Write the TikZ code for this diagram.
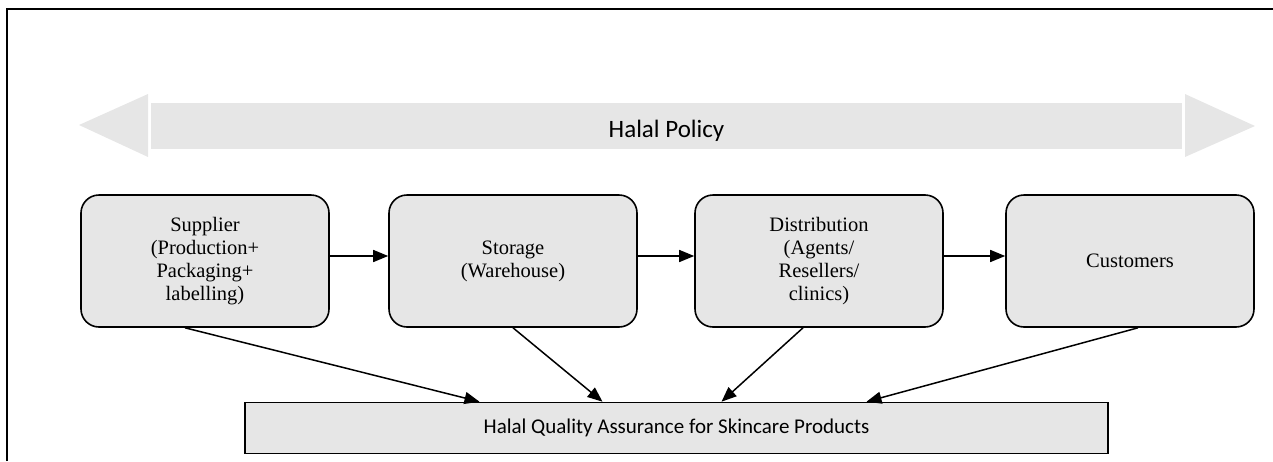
\documentclass[tikz,border=0pt]{standalone}
\usepackage{fontspec}
\setmainfont{Liberation Serif}
\newfontfamily\calibri{Carlito}
\usetikzlibrary{arrows.meta}
\definecolor{boxgray}{HTML}{E6E6E6}
\tikzset{
  stage/.style={draw=black, line width=1.6pt, fill=boxgray, rounded corners=18pt,
    minimum width=248pt, minimum height=132pt, align=center,
    font=\fontsize{20.5}{23}\selectfont},
  qabox/.style={draw=black, line width=1.6pt, fill=boxgray, minimum width=863pt,
    minimum height=51pt, font={\calibri\fontsize{21}{25}\selectfont}},
  flow/.style={line width=1.5pt, -{Triangle[length=15pt,width=12pt]}}
}

\begin{document}
\begin{tikzpicture}[x=1pt,y=-1pt]
\useasboundingbox (0,0) rectangle (1273,461);
\draw[line width=2pt] (7,461) -- (7,9) -- (1273,9);
% policy band
\fill[boxgray] (79,125) -- (148,94) -- (148,157) -- cycle;
\fill[boxgray] (151,103) rectangle (1182,149);
\fill[boxgray] (1185,94) -- (1255,126) -- (1185,157) -- cycle;
\node[font={\calibri\fontsize{25}{30}\selectfont}] (policy) at (666.5,131) {Halal Policy};
% supply chain
\node[stage] (sup) at (205,261) {Supplier\\(Production+\\Packaging+\\labelling)};
\node[stage] (sto) at (513,261) {Storage\\(Warehouse)};
\node[stage] (dis) at (819,261) {Distribution\\(Agents/\\Resellers/\\clinics)};
\node[stage] (cus) at (1130,261) {Customers};
\node[qabox] (qa) at (676.5,428) {Halal Quality Assurance for Skincare Products};
\draw[flow] ([yshift=5pt]sup.east) -- ([yshift=5pt]sto.west);
\draw[flow] ([yshift=5pt]sto.east) -- ([yshift=5pt]dis.west);
\draw[flow] ([yshift=5pt]dis.east) -- ([yshift=5pt]cus.west);
\draw[flow] ([xshift=-20pt]sup.south) -- ([xshift=-197pt]qa.north);
\draw[flow] (sto.south) -- ([xshift=-74pt]qa.north);
\draw[flow] ([xshift=-16pt]dis.south) -- ([xshift=45pt]qa.north);
\draw[flow] ([xshift=8pt]cus.south) -- ([xshift=190pt]qa.north);
\end{tikzpicture}
\end{document}
